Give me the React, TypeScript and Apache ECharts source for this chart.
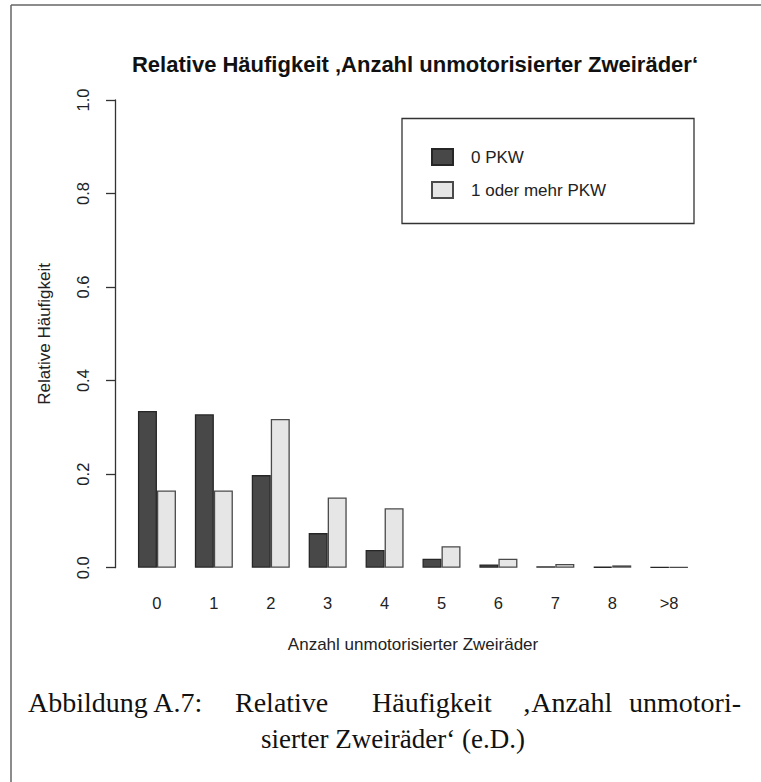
import React, { useEffect, useRef } from "react";
import * as echarts from "echarts";

const categories = ["0", "1", "2", "3", "4", "5", "6", "7", "8", ">8"];
const pkw0 = [0.335, 0.328, 0.198, 0.074, 0.038, 0.019, 0.007, 0.003, 0.002, 0.001];
const pkw1 = [0.165, 0.165, 0.318, 0.15, 0.127, 0.046, 0.019, 0.008, 0.005, 0.001];
const seriesNames = ["0 PKW", "1 oder mehr PKW"];
const yTicks = [0, 0.2, 0.4, 0.6, 0.8, 1.0];

const SANS = "'Liberation Sans', Arial, sans-serif";
const SERIF = "'Liberation Serif', 'Times New Roman', serif";

export default function App() {
  const ref = useRef<HTMLDivElement>(null);
  useEffect(() => {
    document.body.style.margin = "0";
    const chart = echarts.init(ref.current!, undefined, { renderer: "svg" });
    chart.setOption({
      animation: false,
      backgroundColor: "#ffffff",
      title: {
        text: "Relative Häufigkeit ‚Anzahl unmotorisierter Zweiräder‘",
        left: 410,
        top: 48,
        textAlign: "center",
        textStyle: { fontFamily: SANS, fontWeight: "bold", fontSize: 22, color: "#111" },
      },
      legend: {
        data: seriesNames,
        orient: "vertical",
        left: 426,
        top: 143,
        itemWidth: 21,
        itemHeight: 16,
        itemGap: 15,
        icon: "rect",
        textStyle: { fontFamily: SANS, fontSize: 17, color: "#222", padding: [0, 0, 0, 13] },
        selectedMode: false,
      },
      grid: { left: 128.5, right: 63.4, top: 100, bottom: 214.3, containLabel: false },
      xAxis: {
        type: "category",
        data: categories,
        axisLine: { show: false },
        axisTick: { show: false },
        axisLabel: { margin: 27, fontFamily: SANS, fontSize: 16.5, color: "#222" },
        name: "Anzahl unmotorisierter Zweiräder",
        nameLocation: "middle",
        nameGap: 68,
        nameTextStyle: { fontFamily: SANS, fontSize: 17, color: "#222" },
      },
      yAxis: {
        type: "value",
        min: 0,
        max: 1,
        interval: 0.2,
        offset: 13.5,
        axisLine: { show: true, lineStyle: { color: "#333", width: 1.3 } },
        axisTick: { show: true, length: 9, lineStyle: { color: "#333", width: 1.3 } },
        splitLine: { show: false },
        axisLabel: {
          rotate: 90,
          margin: 24,
          fontFamily: SANS,
          fontSize: 16.5,
          color: "#222",
          formatter: (v: number) => (yTicks.some((t) => Math.abs(t - v) < 1e-9) ? v.toFixed(1) : ""),
        },
        name: "Relative Häufigkeit",
        nameLocation: "middle",
        nameRotate: 90,
        nameGap: 62,
        nameTextStyle: { fontFamily: SANS, fontSize: 17, color: "#222" },
      },
      series: [
        {
          name: seriesNames[0],
          type: "bar",
          data: pkw0,
          barWidth: "33.4%",
          barGap: "0%",
          itemStyle: { color: "#484848", borderColor: "#262626", borderWidth: 1.3 },
        },
        {
          name: seriesNames[1],
          type: "bar",
          data: pkw1,
          barWidth: "33.4%",
          barGap: "0%",
          itemStyle: { color: "#e6e6e6", borderColor: "#4a4a4a", borderWidth: 1.3 },
        },
      ],
      graphic: [
        { type: "line", shape: { x1: 11, y1: 5, x2: 761, y2: 5 }, style: { stroke: "#666", lineWidth: 1.5 } },
        { type: "line", shape: { x1: 11, y1: 5, x2: 11, y2: 782 }, style: { stroke: "#666", lineWidth: 1.5 } },
        { type: "rect", shape: { x: 402, y: 118.5, width: 292, height: 105 }, style: { fill: "none", stroke: "#333", lineWidth: 1.3 } },
        { type: "text", x: 28, y: 702, style: { text: "Abbildung A.7:", font: `28px ${SERIF}`, fill: "#111", textAlign: "left", textVerticalAlign: "middle" } },
        { type: "text", x: 235, y: 702, style: { text: "Relative", font: `28px ${SERIF}`, fill: "#111", textAlign: "left", textVerticalAlign: "middle" } },
        { type: "text", x: 372, y: 702, style: { text: "Häufigkeit", font: `28px ${SERIF}`, fill: "#111", textAlign: "left", textVerticalAlign: "middle" } },
        { type: "text", x: 522, y: 702, style: { text: "‚Anzahl", font: `28px ${SERIF}`, fill: "#111", textAlign: "left", textVerticalAlign: "middle" } },
        { type: "text", x: 741, y: 702, style: { text: "unmotori-", font: `28px ${SERIF}`, fill: "#111", textAlign: "right", textVerticalAlign: "middle" } },
        { type: "text", x: 393, y: 739, style: { text: "sierter Zweiräder‘ (e.D.)", font: `27px ${SERIF}`, fill: "#111", textAlign: "center", textVerticalAlign: "middle" } },
      ],
    });
    return () => chart.dispose();
  }, []);
  return <div ref={ref} style={{ width: 761, height: 782 }} />;
}
